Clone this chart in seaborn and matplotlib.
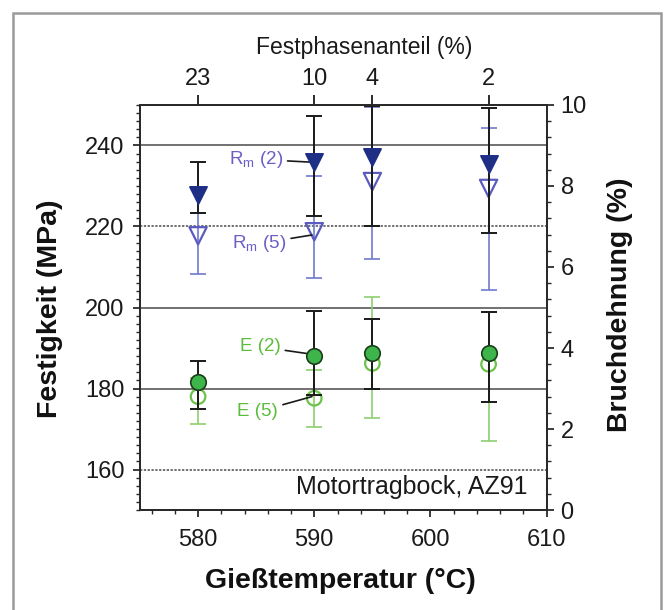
import numpy as np
import pandas as pd
import matplotlib
matplotlib.use("Agg")
import matplotlib.pyplot as plt
import seaborn as sns
from matplotlib.ticker import MultipleLocator, FixedLocator
from matplotlib.patches import Rectangle

# ---------------- data ----------------
temps = [580, 590, 595, 605]                 # Gießtemperatur (°C)
festphase = ["23", "10", "4", "2"]           # Festphasenanteil (%) on top axis

rm2 = [227.8, 236.0, 237.2, 235.4]           # R_m (2), MPa
rm2_lo = [223.3, 222.6, 220.1, 218.3]
rm2_hi = [235.8, 247.3, 249.8, 249.2]

rm5 = [217.7, 218.7, 231.1, 229.4]           # R_m (5), MPa
rm5_lo = [208.2, 207.2, 211.9, 204.3]
rm5_hi = [223.3, 232.5, 249.5, 244.2]

e2 = [3.15, 3.80, 3.88, 3.88]                # E (2), %
e2_lo = [2.49, 2.84, 3.00, 2.67]
e2_hi = [3.69, 4.91, 4.71, 4.90]

e5 = [2.80, 2.76, 3.62, 3.60]                # E (5), %
e5_lo = [2.12, 2.06, 2.26, 1.70]
e5_hi = [3.25, 3.45, 5.25, 4.90]

df = pd.DataFrame(dict(T=temps, rm2=rm2, rm5=rm5, e2=e2, e5=e5))

# ---------------- style ----------------
sns.set_theme(style="ticks")
plt.rcParams["font.family"] = ["Liberation Sans", "DejaVu Sans"]
plt.rcParams["mathtext.fontset"] = "custom"
plt.rcParams["mathtext.rm"] = "Liberation Sans"
plt.rcParams["mathtext.it"] = "Liberation Sans:italic"
plt.rcParams["axes.edgecolor"] = "#2a2a2a"
plt.rcParams["axes.linewidth"] = 1.3

blue_dark = "#1f2f86"
blue_open = "#5b5bbf"
blue_text = "#6b5fc4"
blue_err = "#6f7ad0"
green_fill = "#3db54a"
green_edge = "#1b3d1b"
green_open = "#6cc24a"
green_text = "#5cbc3c"
green_err = "#8ccf6e"
black = "#1a1a1a"

fig = plt.figure(figsize=(6.64, 6.10), dpi=100)
fig.patch.set_facecolor("white")
ax = fig.add_axes([0.2108, 0.1639, 0.6125, 0.664])
ax2 = ax.twinx()

def yerr(v, lo, hi):
    v, lo, hi = map(np.asarray, (v, lo, hi))
    return np.vstack([v - lo, hi - v])

# ---------- strength (left axis) ----------
ax.errorbar(temps, rm5, yerr=yerr(rm5, rm5_lo, rm5_hi), fmt="none",
            ecolor=blue_err, elinewidth=1.2, capsize=6, capthick=1.2, zorder=2)
sns.scatterplot(data=df, x="T", y="rm5", marker="v", s=155, color="none",
                edgecolor=blue_open, linewidth=1.6, ax=ax, zorder=2.5)
ax.errorbar(temps, rm2, yerr=yerr(rm2, rm2_lo, rm2_hi), fmt="none",
            ecolor=black, elinewidth=1.4, capsize=6, capthick=1.4, zorder=3)
sns.scatterplot(data=df, x="T", y="rm2", marker="v", s=155, color=blue_dark,
                edgecolor=blue_dark, linewidth=1.2, ax=ax, zorder=4)

# ---------- elongation (right axis) ----------
ax2.errorbar(temps, e5, yerr=yerr(e5, e5_lo, e5_hi), fmt="none",
             ecolor=green_err, elinewidth=1.2, capsize=6, capthick=1.2, zorder=2)
sns.scatterplot(data=df, x="T", y="e5", marker="o", s=110, color="none",
                edgecolor=green_open, linewidth=1.6, ax=ax2, zorder=2.5)
ax2.errorbar(temps, e2, yerr=yerr(e2, e2_lo, e2_hi), fmt="none",
             ecolor=black, elinewidth=1.4, capsize=6, capthick=1.4, zorder=3)
sns.scatterplot(data=df, x="T", y="e2", marker="o", s=125, color=green_fill,
                edgecolor=green_edge, linewidth=1.2, ax=ax2, zorder=4)

# ---------- axes limits / ticks ----------
ax.set_xlim(575, 610)
ax.set_ylim(150, 250)
ax2.set_ylim(0, 10)

ax.xaxis.set_major_locator(MultipleLocator(10))
ax.xaxis.set_minor_locator(MultipleLocator(2))
ax.yaxis.set_major_locator(MultipleLocator(20))
ax.yaxis.set_minor_locator(MultipleLocator(2))
ax2.yaxis.set_major_locator(MultipleLocator(2))
ax2.yaxis.set_minor_locator(MultipleLocator(0.4))

ax.tick_params(axis="both", which="major", direction="out", length=5,
               width=1.2, labelsize=17, colors="#1a1a1a")
ax.tick_params(axis="both", which="minor", direction="out", length=3, width=1.0)
ax.tick_params(axis="y", which="major", pad=6)
ax.tick_params(axis="x", which="major", pad=9)
ax2.tick_params(axis="y", which="major", direction="out", length=5, width=1.2,
                labelsize=17, pad=5, colors="#1a1a1a")
ax2.tick_params(axis="y", which="minor", direction="out", length=3, width=1.0)

# horizontal grid lines at the strength major ticks
ax.grid(axis="y", which="major", color="#4a4a4a", linewidth=1.1)
ax.set_axisbelow(True)
for gl, val in zip(ax.get_ygridlines(), ax.get_yticks()):
    if int(round(val)) in (220, 160):
        gl.set_linestyle((0, (1.5, 1)))

ax.set_xlabel("")
ax.set_ylabel("")
ax2.set_ylabel("")

# ---------- top axis: Festphasenanteil ----------
axt = ax.twiny()
axt.set_xlim(ax.get_xlim())
axt.xaxis.set_major_locator(FixedLocator(temps))
axt.set_xticklabels(festphase)
axt.xaxis.set_minor_locator(FixedLocator([]))
axt.tick_params(axis="x", which="major", direction="out", length=7, width=1.3,
                labelsize=17, pad=4, colors="#1a1a1a")
axt.set_xlabel("Festphasenanteil (%)", fontsize=16.5, color="#1a1a1a")
axt.xaxis.set_label_coords(0.551, 1.143)
axt.xaxis.label.set_va("center")

# ---------- axis labels ----------
ax.set_xlabel("Gießtemperatur (°C)", fontsize=20.5, fontweight="bold", color="#111111")
ax.xaxis.set_label_coords(0.492, -0.176)
ax.xaxis.label.set_va("center")
ax.set_ylabel("Festigkeit (MPa)", fontsize=20.5, fontweight="bold", color="#111111")
ax.yaxis.set_label_coords(-0.221, 0.497)
ax.yaxis.label.set_va("center")
ax.yaxis.label.set_ha("center")
ax2.set_ylabel("Bruchdehnung (%)", fontsize=20.5, fontweight="bold", color="#111111",
               rotation=90)
ax2.yaxis.set_label_coords(1.180, 0.506)
ax2.yaxis.label.set_va("center")
ax2.yaxis.label.set_ha("center")

# ---------- annotations ----------
arrow = dict(arrowstyle="-", color=black, lw=1.2, shrinkA=1, shrinkB=0)
ax.annotate(r"R$_\mathrm{m}$ (2)", xy=(589.6, 235.9), xytext=(587.3, 236.6),
            ha="right", va="center", fontsize=13.5, color=blue_text, arrowprops=arrow)
ax.annotate(r"R$_\mathrm{m}$ (5)", xy=(589.8, 217.9), xytext=(587.6, 215.8),
            ha="right", va="center", fontsize=13.5, color=blue_text, arrowprops=arrow)
ax2.annotate("E (2)", xy=(589.7, 3.85), xytext=(587.1, 4.03),
             ha="right", va="center", fontsize=13.5, color=green_text, arrowprops=arrow)
ax2.annotate("E (5)", xy=(589.8, 2.80), xytext=(586.9, 2.43),
             ha="right", va="center", fontsize=13.5, color=green_text, arrowprops=arrow)

ax.text(0.954, 0.0575, "Motortragbock, AZ91", transform=ax.transAxes,
        ha="right", va="center", fontsize=18, color="#1a1a1a")

for a in (ax, ax2, axt):
    for s in a.spines.values():
        s.set_linewidth(1.3)
        s.set_color("#2a2a2a")

# outer grey frame
fig.patches.append(Rectangle((13 / 664, -0.1), (661 - 13) / 664, 1 - 13 / 610 + 0.1,
                             transform=fig.transFigure, fill=False,
                             edgecolor="#9a9a9a", linewidth=1.8))

fig.savefig("out.png", dpi=100, facecolor="white")
